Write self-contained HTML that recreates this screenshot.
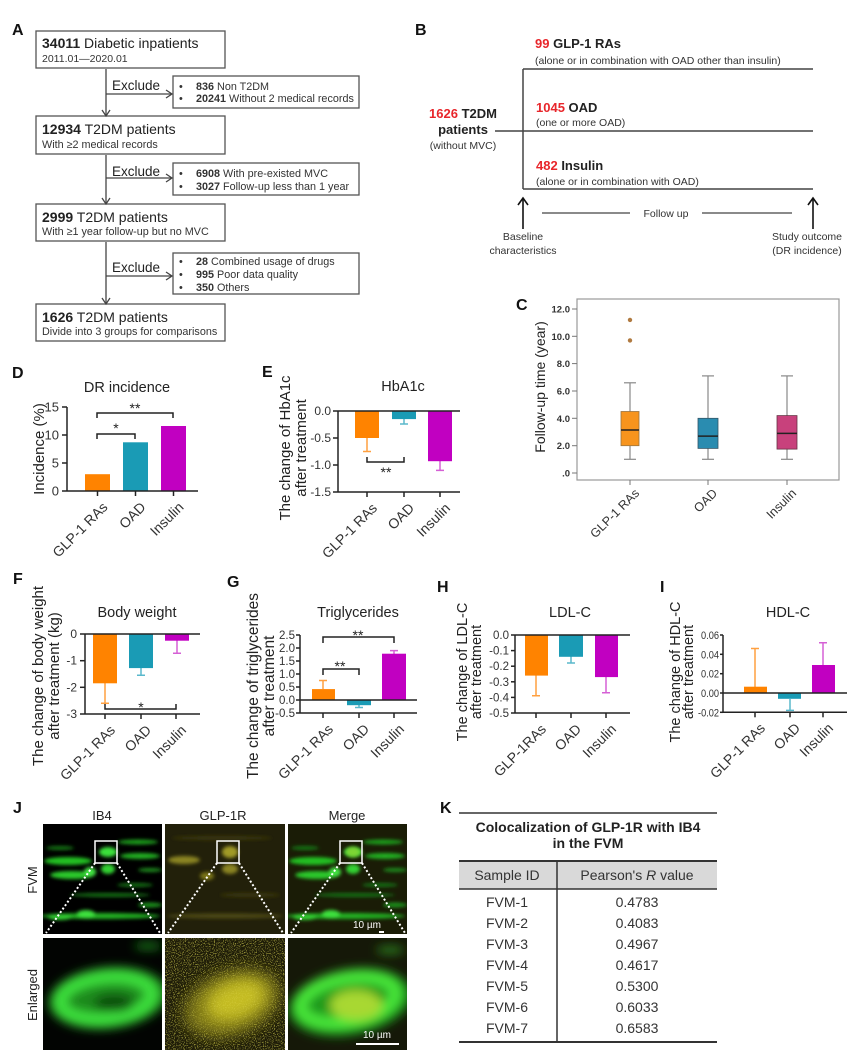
<!DOCTYPE html>
<html><head><meta charset="utf-8">
<style>
html,body{margin:0;padding:0;background:#fff;}
svg{display:block;font-family:"Liberation Sans",Arial,sans-serif;}
</style></head><body>
<svg width="858" height="1059" viewBox="0 0 858 1059" xmlns="http://www.w3.org/2000/svg">
<defs>
  <filter id="bl2" x="-20%" y="-50%" width="140%" height="200%"><feGaussianBlur stdDeviation="1.8"/></filter>
  <filter id="bl5" x="-30%" y="-30%" width="160%" height="160%"><feGaussianBlur stdDeviation="5"/></filter>
  <filter id="bl7" x="-30%" y="-30%" width="160%" height="160%"><feGaussianBlur stdDeviation="7"/></filter>
  <filter id="nz" x="0" y="0" width="100%" height="100%"><feTurbulence type="fractalNoise" baseFrequency="0.9" numOctaves="1" seed="5"/><feColorMatrix type="matrix" values="0 0 0 0 0.8  0 0 0 0 0.76  0 0 0 0 0.1  0 0 0 5 -2.6"/></filter>
  <clipPath id="c1"><rect x="43" y="824" width="119" height="110"/></clipPath>
  <clipPath id="c2"><rect x="165" y="824" width="120" height="110"/></clipPath>
  <clipPath id="c3"><rect x="288" y="824" width="119" height="110"/></clipPath>
  <clipPath id="c4"><rect x="43" y="938" width="119" height="112"/></clipPath>
  <clipPath id="c5"><rect x="165" y="938" width="120" height="112"/></clipPath>
  <clipPath id="c6"><rect x="288" y="938" width="119" height="112"/></clipPath>
  <g id="g1" filter="url(#bl2)">
    <ellipse cx="68" cy="861" rx="24" ry="4" fill="#22c022"/>
    <ellipse cx="108" cy="852" rx="9" ry="5" fill="#3be03b"/>
    <ellipse cx="108" cy="869" rx="7" ry="5" fill="#33d033"/>
    <ellipse cx="72" cy="875" rx="22" ry="4" fill="#2cc82c"/>
    <ellipse cx="90" cy="872" rx="6" ry="5" fill="#3fe03f"/>
    <ellipse cx="140" cy="856" rx="20" ry="3" fill="#22b022"/>
    <ellipse cx="138" cy="842" rx="20" ry="2.5" fill="#1e9e1e"/>
    <ellipse cx="150" cy="870" rx="12" ry="2" fill="#1a8a1a"/>
    <ellipse cx="100" cy="916" rx="60" ry="3" fill="#20b020"/>
    <ellipse cx="86" cy="914" rx="9" ry="4" fill="#3ee03e"/>
    <ellipse cx="60" cy="917" rx="12" ry="3" fill="#30d030"/>
    <ellipse cx="110" cy="895" rx="40" ry="2" fill="#127012"/>
    <ellipse cx="150" cy="905" rx="12" ry="2.5" fill="#1a901a"/>
    <ellipse cx="60" cy="848" rx="14" ry="2" fill="#157515"/>
    <ellipse cx="135" cy="885" rx="18" ry="2" fill="#127012"/>
  </g>
</defs>

<!-- Panel letters -->
<g font-size="16" font-weight="bold" fill="#111">
  <text x="12" y="35">A</text>
  <text x="415" y="35">B</text>
  <text x="516" y="310">C</text>
  <text x="12" y="378">D</text>
  <text x="262" y="377">E</text>
  <text x="13" y="584">F</text>
  <text x="227" y="587">G</text>
  <text x="437" y="592">H</text>
  <text x="660" y="592">I</text>
  <text x="13" y="813">J</text>
  <text x="440" y="813">K</text>
</g>

<!-- ================= Panel A ================= -->
<g fill="none" stroke="#555" stroke-width="1.3">
  <rect x="36" y="31" width="189" height="37"/>
  <rect x="36" y="116" width="189" height="38"/>
  <rect x="36" y="204" width="189" height="37"/>
  <rect x="36" y="304" width="189" height="37"/>
  <rect x="173" y="76" width="186" height="32"/>
  <rect x="173" y="163" width="186" height="32"/>
  <rect x="173" y="253" width="186" height="41"/>
</g>
<g fill="none" stroke="#444" stroke-width="1.3">
  <line x1="106" y1="69" x2="106" y2="115"/><path d="M102,110 L106,116 L110,110"/>
  <line x1="106" y1="94" x2="171" y2="94"/><path d="M166,90 L172,94 L166,98"/>
  <line x1="106" y1="155" x2="106" y2="203"/><path d="M102,198 L106,204 L110,198"/>
  <line x1="106" y1="178" x2="171" y2="178"/><path d="M166,174 L172,178 L166,182"/>
  <line x1="106" y1="242" x2="106" y2="303"/><path d="M102,298 L106,304 L110,298"/>
  <line x1="106" y1="276" x2="171" y2="276"/><path d="M166,272 L172,276 L166,280"/>
</g>
<g fill="#222">
  <text x="42" y="48" font-size="14"><tspan font-weight="bold">34011</tspan> Diabetic inpatients</text>
  <text x="42" y="62" font-size="10.5" fill="#333">2011.01—2020.01</text>
  <text x="42" y="134" font-size="14"><tspan font-weight="bold">12934</tspan> T2DM patients</text>
  <text x="42" y="148" font-size="10.8" fill="#333">With ≥2 medical records</text>
  <text x="42" y="222" font-size="14"><tspan font-weight="bold">2999</tspan> T2DM patients</text>
  <text x="42" y="235" font-size="10.8" fill="#333">With ≥1 year follow-up but no MVC</text>
  <text x="42" y="322" font-size="14"><tspan font-weight="bold">1626</tspan> T2DM patients</text>
  <text x="42" y="335" font-size="10.8" fill="#333">Divide into 3 groups for comparisons</text>
  <text x="112" y="90" font-size="13.5">Exclude</text>
  <text x="112" y="176" font-size="13.5">Exclude</text>
  <text x="112" y="272" font-size="13.5">Exclude</text>
</g>
<g fill="#333" font-size="10.8">
  <text x="179" y="90">•</text><text x="196" y="90"><tspan font-weight="bold">836</tspan> Non T2DM</text>
  <text x="179" y="102">•</text><text x="196" y="102"><tspan font-weight="bold">20241</tspan> Without 2 medical records</text>
  <text x="179" y="177">•</text><text x="196" y="177"><tspan font-weight="bold">6908</tspan> With pre-existed MVC</text>
  <text x="179" y="190">•</text><text x="196" y="190"><tspan font-weight="bold">3027</tspan> Follow-up less than 1 year</text>
  <text x="179" y="265">•</text><text x="196" y="265"><tspan font-weight="bold">28</tspan> Combined usage of drugs</text>
  <text x="179" y="278">•</text><text x="196" y="278"><tspan font-weight="bold">995</tspan> Poor data quality</text>
  <text x="179" y="291">•</text><text x="196" y="291"><tspan font-weight="bold">350</tspan> Others</text>
</g>

<!-- ================= Panel B ================= -->
<g stroke="#444" stroke-width="1.5" fill="none">
  <line x1="523" y1="69" x2="813" y2="69"/>
  <line x1="495" y1="131" x2="813" y2="131"/>
  <line x1="523" y1="189" x2="813" y2="189"/>
  <line x1="523" y1="69" x2="523" y2="189"/>
  <line x1="542" y1="213" x2="630" y2="213" stroke-width="1.2"/>
  <line x1="702" y1="213" x2="792" y2="213" stroke-width="1.2"/>
</g>
<g stroke="#111" stroke-width="1.6" fill="none">
  <line x1="523" y1="229" x2="523" y2="199"/><path d="M518,205 L523,198 L528,205"/>
  <line x1="813" y1="229" x2="813" y2="199"/><path d="M808,205 L813,198 L818,205"/>
</g>
<g fill="#222">
  <text x="535" y="48" font-size="13" font-weight="bold"><tspan fill="#e8262b">99</tspan> GLP-1 RAs</text>
  <text x="535" y="64" font-size="10.5" fill="#333">(alone or in combination with OAD other than insulin)</text>
  <text x="536" y="112" font-size="13" font-weight="bold"><tspan fill="#e8262b">1045</tspan> OAD</text>
  <text x="536" y="126" font-size="10.5" fill="#333">(one or more OAD)</text>
  <text x="536" y="170" font-size="13" font-weight="bold"><tspan fill="#e8262b">482</tspan> Insulin</text>
  <text x="536" y="185" font-size="10.5" fill="#333">(alone or in combination with OAD)</text>
  <text x="463" y="118" font-size="13" font-weight="bold" text-anchor="middle"><tspan fill="#e8262b">1626</tspan> T2DM</text>
  <text x="463" y="134" font-size="13" font-weight="bold" text-anchor="middle">patients</text>
  <text x="463" y="149" font-size="10.5" text-anchor="middle" fill="#333">(without MVC)</text>
  <text x="666" y="217" font-size="10.5" text-anchor="middle" fill="#333">Follow up</text>
  <text x="523" y="240" font-size="10.5" text-anchor="middle" fill="#333">Baseline</text>
  <text x="523" y="254" font-size="10.5" text-anchor="middle" fill="#333">characteristics</text>
  <text x="807" y="240" font-size="10.5" text-anchor="middle" fill="#333">Study outcome</text>
  <text x="807" y="254" font-size="10.5" text-anchor="middle" fill="#333">(DR incidence)</text>
</g>

<!-- ================= Panel C ================= -->
<rect x="577" y="299" width="262" height="181" fill="none" stroke="#999" stroke-width="1.2"/>
<g stroke="#777" stroke-width="1">
  <line x1="572" y1="309" x2="577" y2="309"/>
  <line x1="572" y1="336.3" x2="577" y2="336.3"/>
  <line x1="572" y1="363.6" x2="577" y2="363.6"/>
  <line x1="572" y1="391" x2="577" y2="391"/>
  <line x1="572" y1="418.3" x2="577" y2="418.3"/>
  <line x1="572" y1="445.7" x2="577" y2="445.7"/>
  <line x1="572" y1="473" x2="577" y2="473"/>
  <line x1="630" y1="480" x2="630" y2="485"/>
  <line x1="708" y1="480" x2="708" y2="485"/>
  <line x1="787" y1="480" x2="787" y2="485"/>
</g>
<g font-size="9.5" font-weight="bold" fill="#333" text-anchor="end">
  <text x="570" y="312.5">12.0</text>
  <text x="570" y="339.8">10.0</text>
  <text x="570" y="367.1">8.0</text>
  <text x="570" y="394.5">6.0</text>
  <text x="570" y="421.8">4.0</text>
  <text x="570" y="449.2">2.0</text>
  <text x="570" y="476.5">.0</text>
</g>
<text transform="translate(545,387) rotate(-90)" font-size="14" text-anchor="middle" fill="#222">Follow-up time (year)</text>
<g stroke="#888" stroke-width="1.2">
  <line x1="630" y1="382.8" x2="630" y2="459.3"/>
  <line x1="624" y1="382.8" x2="636" y2="382.8"/>
  <line x1="624" y1="459.3" x2="636" y2="459.3"/>
  <line x1="708" y1="375.9" x2="708" y2="459.3"/>
  <line x1="702" y1="375.9" x2="714" y2="375.9"/>
  <line x1="702" y1="459.3" x2="714" y2="459.3"/>
  <line x1="787" y1="375.9" x2="787" y2="459.3"/>
  <line x1="781" y1="375.9" x2="793" y2="375.9"/>
  <line x1="781" y1="459.3" x2="793" y2="459.3"/>
</g>
<rect x="621" y="411.5" width="18" height="34.2" fill="#f7941d" stroke="#9a7440" stroke-width="0.8"/>
<line x1="621" y1="430" x2="639" y2="430" stroke="#222" stroke-width="1.5"/>
<rect x="698" y="418.3" width="20" height="30.1" fill="#2a8cb0" stroke="#335566" stroke-width="0.8"/>
<line x1="698" y1="436.1" x2="718" y2="436.1" stroke="#222" stroke-width="1.5"/>
<rect x="777" y="415.6" width="20" height="33.5" fill="#c8417c" stroke="#663344" stroke-width="0.8"/>
<line x1="777" y1="433.4" x2="797" y2="433.4" stroke="#222" stroke-width="1.5"/>
<circle cx="630" cy="319.9" r="2.2" fill="#b07a40"/>
<circle cx="630" cy="340.4" r="2.2" fill="#b07a40"/>
<g font-size="12.5" fill="#333" text-anchor="end">
  <text transform="translate(640,494) rotate(-45)">GLP-1 RAs</text>
  <text transform="translate(718,494) rotate(-45)">OAD</text>
  <text transform="translate(797,494) rotate(-45)">Insulin</text>
</g>

<!-- ================= Panel D ================= -->
<text x="127" y="392" font-size="14.5" text-anchor="middle" fill="#222">DR incidence</text>
<rect x="85" y="474.2" width="25" height="16.8" fill="#ff8300"/>
<rect x="123" y="442.3" width="25" height="48.7" fill="#1a9bb5"/>
<rect x="161" y="426" width="25" height="65" fill="#c100c1"/>
<g stroke="#222" stroke-width="1.5" fill="none">
  <line x1="67" y1="407" x2="67" y2="491"/>
  <line x1="67" y1="491" x2="198" y2="491"/>
  <line x1="62" y1="407" x2="67" y2="407"/>
  <line x1="62" y1="435" x2="67" y2="435"/>
  <line x1="62" y1="463" x2="67" y2="463"/>
  <line x1="62" y1="491" x2="67" y2="491"/>
  <line x1="97.5" y1="491" x2="97.5" y2="496"/>
  <line x1="135.5" y1="491" x2="135.5" y2="496"/>
  <line x1="173.5" y1="491" x2="173.5" y2="496"/>
  <path d="M97,439 L97,434 L135,434 L135,439"/>
  <path d="M97,418 L97,413 L173,413 L173,418"/>
</g>
<g font-size="13" fill="#333" text-anchor="end">
  <text x="59" y="411.5">15</text>
  <text x="59" y="439.5">10</text>
  <text x="59" y="467.5">5</text>
  <text x="59" y="495.5">0</text>
</g>
<g font-size="14" fill="#222" text-anchor="middle">
  <text x="116" y="433">*</text>
  <text x="135" y="413">**</text>
</g>
<text transform="translate(44,449) rotate(-90)" font-size="15" text-anchor="middle" fill="#222">Incidence (%)</text>
<g font-size="14" fill="#333" text-anchor="end">
  <text transform="translate(108.5,508) rotate(-45)">GLP-1 RAs</text>
  <text transform="translate(146.5,508) rotate(-45)">OAD</text>
  <text transform="translate(184.5,508) rotate(-45)">Insulin</text>
</g>

<!-- ================= Panel E ================= -->
<text x="403" y="391" font-size="14.5" text-anchor="middle" fill="#222">HbA1c</text>
<g stroke-width="1.5" fill="none">
  <path d="M367,438 L367,451.5 M363,451.5 L371,451.5" stroke="#ffa040"/>
  <path d="M404,419 L404,424 M400,424 L408,424" stroke="#5ab8cc"/>
  <path d="M440,461 L440,470.4 M436,470.4 L444,470.4" stroke="#d560d5"/>
</g>
<rect x="355" y="411" width="24" height="27" fill="#ff8300"/>
<rect x="392" y="411" width="24" height="8.1" fill="#1a9bb5"/>
<rect x="428" y="411" width="24" height="50.2" fill="#c100c1"/>
<g stroke="#222" stroke-width="1.5" fill="none">
  <line x1="338" y1="411" x2="338" y2="492"/>
  <line x1="338" y1="411" x2="460" y2="411"/>
  <line x1="338" y1="492" x2="460" y2="492"/>
  <line x1="333" y1="411" x2="338" y2="411"/>
  <line x1="333" y1="438" x2="338" y2="438"/>
  <line x1="333" y1="465" x2="338" y2="465"/>
  <line x1="333" y1="492" x2="338" y2="492"/>
  <line x1="367" y1="492" x2="367" y2="497"/>
  <line x1="404" y1="492" x2="404" y2="497"/>
  <line x1="440" y1="492" x2="440" y2="497"/>
  <path d="M367,457 L367,462 L404,462 L404,457"/>
</g>
<g font-size="12" fill="#333" text-anchor="end">
  <text x="331" y="415">0.0</text>
  <text x="331" y="442">-0.5</text>
  <text x="331" y="469">-1.0</text>
  <text x="331" y="496">-1.5</text>
</g>
<text x="386" y="477" font-size="14" text-anchor="middle" fill="#222">**</text>
<g font-size="15" fill="#222" text-anchor="middle">
  <text transform="translate(290,448) rotate(-90)">The change of HbA1c</text>
  <text transform="translate(306,448) rotate(-90)">after treatment</text>
</g>
<g font-size="14" fill="#333" text-anchor="end">
  <text transform="translate(378,509) rotate(-45)">GLP-1 RAs</text>
  <text transform="translate(415,509) rotate(-45)">OAD</text>
  <text transform="translate(451,509) rotate(-45)">Insulin</text>
</g>

<!-- ================= Panel F ================= -->
<text x="137" y="617" font-size="14.5" text-anchor="middle" fill="#222">Body weight</text>
<g stroke-width="1.5" fill="none">
  <path d="M105,683 L105,703.3 M101,703.3 L109,703.3" stroke="#ffa040"/>
  <path d="M141,668 L141,675.3 M137,675.3 L145,675.3" stroke="#5ab8cc"/>
  <path d="M177,640 L177,653.2 M173,653.2 L181,653.2" stroke="#d560d5"/>
</g>
<rect x="93" y="634" width="24" height="49.3" fill="#ff8300"/>
<rect x="129" y="634" width="24" height="34.1" fill="#1a9bb5"/>
<rect x="165" y="634" width="24" height="6.7" fill="#c100c1"/>
<g stroke="#222" stroke-width="1.5" fill="none">
  <line x1="85" y1="634" x2="85" y2="714"/>
  <line x1="85" y1="634" x2="200" y2="634"/>
  <line x1="85" y1="714" x2="200" y2="714"/>
  <line x1="80" y1="634" x2="85" y2="634"/>
  <line x1="80" y1="660.7" x2="85" y2="660.7"/>
  <line x1="80" y1="687.3" x2="85" y2="687.3"/>
  <line x1="80" y1="714" x2="85" y2="714"/>
  <line x1="105" y1="714" x2="105" y2="719"/>
  <line x1="141" y1="714" x2="141" y2="719"/>
  <line x1="176" y1="714" x2="176" y2="719"/>
  <path d="M105,704 L105,709 L176,709 L176,704"/>
</g>
<g font-size="12" fill="#333" text-anchor="end">
  <text x="77" y="638">0</text>
  <text x="77" y="664.7">-1</text>
  <text x="77" y="691.3">-2</text>
  <text x="77" y="718">-3</text>
</g>
<text x="141" y="712" font-size="14" text-anchor="middle" fill="#222">*</text>
<g font-size="15" fill="#222" text-anchor="middle">
  <text transform="translate(43,676) rotate(-90)">The change of body weight</text>
  <text transform="translate(59,676) rotate(-90)">after treatment (kg)</text>
</g>
<g font-size="14" fill="#333" text-anchor="end">
  <text transform="translate(116,731) rotate(-45)">GLP-1 RAs</text>
  <text transform="translate(152,731) rotate(-45)">OAD</text>
  <text transform="translate(187,731) rotate(-45)">Insulin</text>
</g>

<!-- ================= Panel G ================= -->
<text x="358" y="617" font-size="14.5" text-anchor="middle" fill="#222">Triglycerides</text>
<g stroke-width="1.5" fill="none">
  <path d="M323,689 L323,680.5 M319,680.5 L327,680.5" stroke="#ffa040"/>
  <path d="M359,705 L359,707.5 M355,707.5 L363,707.5" stroke="#5ab8cc"/>
  <path d="M394,654 L394,650.6 M390,650.6 L398,650.6" stroke="#d560d5"/>
</g>
<rect x="312" y="689.1" width="23" height="10.9" fill="#ff8300"/>
<rect x="347" y="700" width="24" height="5.2" fill="#1a9bb5"/>
<rect x="382" y="653.7" width="24" height="46.3" fill="#c100c1"/>
<g stroke="#222" stroke-width="1.5" fill="none">
  <line x1="300" y1="635" x2="300" y2="713"/>
  <line x1="300" y1="700" x2="417" y2="700"/>
  <line x1="300" y1="713" x2="417" y2="713"/>
  <line x1="296" y1="635" x2="300" y2="635"/>
  <line x1="296" y1="648" x2="300" y2="648"/>
  <line x1="296" y1="661" x2="300" y2="661"/>
  <line x1="296" y1="674" x2="300" y2="674"/>
  <line x1="296" y1="687" x2="300" y2="687"/>
  <line x1="296" y1="700" x2="300" y2="700"/>
  <line x1="296" y1="713" x2="300" y2="713"/>
  <line x1="323" y1="713" x2="323" y2="718"/>
  <line x1="359" y1="713" x2="359" y2="718"/>
  <line x1="394" y1="713" x2="394" y2="718"/>
  <path d="M323,675 L323,669 L359,669 L359,675"/>
  <path d="M323,643 L323,637 L394,637 L394,643"/>
</g>
<g font-size="11.5" fill="#333" text-anchor="end">
  <text x="295" y="639">2.5</text>
  <text x="295" y="652">2.0</text>
  <text x="295" y="665">1.5</text>
  <text x="295" y="678">1.0</text>
  <text x="295" y="691">0.5</text>
  <text x="295" y="704">0.0</text>
  <text x="295" y="717">-0.5</text>
</g>
<g font-size="14" fill="#222" text-anchor="middle">
  <text x="340" y="671">**</text>
  <text x="358" y="640">**</text>
</g>
<g font-size="15.5" fill="#222" text-anchor="middle">
  <text transform="translate(258,686) rotate(-90)">The change of triglycerides</text>
  <text transform="translate(274,686) rotate(-90)">after treatment</text>
</g>
<g font-size="14" fill="#333" text-anchor="end">
  <text transform="translate(334,730) rotate(-45)">GLP-1 RAs</text>
  <text transform="translate(370,730) rotate(-45)">OAD</text>
  <text transform="translate(405,730) rotate(-45)">Insulin</text>
</g>

<!-- ================= Panel H ================= -->
<text x="570" y="617" font-size="14.5" text-anchor="middle" fill="#222">LDL-C</text>
<g stroke-width="1.5" fill="none">
  <path d="M536,675 L536,695.8 M532,695.8 L540,695.8" stroke="#ffa040"/>
  <path d="M571,656 L571,663 M567,663 L575,663" stroke="#5ab8cc"/>
  <path d="M606,676 L606,692.7 M602,692.7 L610,692.7" stroke="#d560d5"/>
</g>
<rect x="525" y="635" width="23" height="40.6" fill="#ff8300"/>
<rect x="559" y="635" width="24" height="21.8" fill="#1a9bb5"/>
<rect x="595" y="635" width="23" height="42.1" fill="#c100c1"/>
<g stroke="#222" stroke-width="1.5" fill="none">
  <line x1="515" y1="635" x2="515" y2="713"/>
  <line x1="515" y1="635" x2="630" y2="635"/>
  <line x1="515" y1="713" x2="630" y2="713"/>
  <line x1="511" y1="635" x2="515" y2="635"/>
  <line x1="511" y1="650.6" x2="515" y2="650.6"/>
  <line x1="511" y1="666.2" x2="515" y2="666.2"/>
  <line x1="511" y1="681.8" x2="515" y2="681.8"/>
  <line x1="511" y1="697.4" x2="515" y2="697.4"/>
  <line x1="511" y1="713" x2="515" y2="713"/>
  <line x1="536" y1="713" x2="536" y2="718"/>
  <line x1="571" y1="713" x2="571" y2="718"/>
  <line x1="606" y1="713" x2="606" y2="718"/>
</g>
<g font-size="11.5" fill="#333" text-anchor="end">
  <text x="509" y="639">0.0</text>
  <text x="509" y="654.6">-0.1</text>
  <text x="509" y="670.2">-0.2</text>
  <text x="509" y="685.8">-0.3</text>
  <text x="509" y="701.4">-0.4</text>
  <text x="509" y="717">-0.5</text>
</g>
<g font-size="14.5" fill="#222" text-anchor="middle">
  <text transform="translate(467,672) rotate(-90)">The change of LDL-C</text>
  <text transform="translate(481,672) rotate(-90)">after treatment</text>
</g>
<g font-size="14" fill="#333" text-anchor="end">
  <text transform="translate(547,730) rotate(-45)">GLP-1RAs</text>
  <text transform="translate(582,730) rotate(-45)">OAD</text>
  <text transform="translate(617,730) rotate(-45)">Insulin</text>
</g>

<!-- ================= Panel I ================= -->
<text x="788" y="617" font-size="14.5" text-anchor="middle" fill="#222">HDL-C</text>
<g stroke-width="1.5" fill="none">
  <path d="M755,687 L755,648.5 M751,648.5 L759,648.5" stroke="#ffa040"/>
  <path d="M790,699 L790,710.4 M786,710.4 L794,710.4" stroke="#5ab8cc"/>
  <path d="M823,665 L823,642.7 M819,642.7 L827,642.7" stroke="#d560d5"/>
</g>
<rect x="744" y="686.7" width="23" height="6.3" fill="#ff8300"/>
<rect x="778" y="693" width="23" height="5.8" fill="#1a9bb5"/>
<rect x="812" y="665" width="23" height="28" fill="#c100c1"/>
<g stroke="#222" stroke-width="1.5" fill="none">
  <line x1="723" y1="635" x2="723" y2="712.3"/>
  <line x1="723" y1="693" x2="847" y2="693"/>
  <line x1="723" y1="712.3" x2="847" y2="712.3"/>
  <line x1="720" y1="635" x2="723" y2="635"/>
  <line x1="720" y1="654.3" x2="723" y2="654.3"/>
  <line x1="720" y1="673.7" x2="723" y2="673.7"/>
  <line x1="720" y1="693" x2="723" y2="693"/>
  <line x1="720" y1="712.3" x2="723" y2="712.3"/>
  <line x1="755" y1="712.3" x2="755" y2="717.3"/>
  <line x1="790" y1="712.3" x2="790" y2="717.3"/>
  <line x1="823" y1="712.3" x2="823" y2="717.3"/>
</g>
<g font-size="11" fill="#333">
  <text x="701" y="639" textLength="18" lengthAdjust="spacingAndGlyphs">0.06</text>
  <text x="701" y="658.3" textLength="18" lengthAdjust="spacingAndGlyphs">0.04</text>
  <text x="701" y="677.7" textLength="18" lengthAdjust="spacingAndGlyphs">0.02</text>
  <text x="701" y="697" textLength="18" lengthAdjust="spacingAndGlyphs">0.00</text>
  <text x="698" y="716.3" textLength="21" lengthAdjust="spacingAndGlyphs">-0.02</text>
</g>
<g font-size="14.5" fill="#222" text-anchor="middle">
  <text transform="translate(680,672) rotate(-90)">The change of HDL-C</text>
  <text transform="translate(693,672) rotate(-90)">after treatment</text>
</g>
<g font-size="14" fill="#333" text-anchor="end">
  <text transform="translate(766,729) rotate(-45)">GLP-1 RAs</text>
  <text transform="translate(801,729) rotate(-45)">OAD</text>
  <text transform="translate(834,729) rotate(-45)">Insulin</text>
</g>

<!-- ================= Panel J ================= -->
<g font-size="13" fill="#222" text-anchor="middle">
  <text x="102" y="820">IB4</text>
  <text x="223" y="820">GLP-1R</text>
  <text x="347" y="820">Merge</text>
  <text transform="translate(37,880) rotate(-90)">FVM</text>
  <text transform="translate(37,995) rotate(-90)">Enlarged</text>
</g>
<g clip-path="url(#c1)">
  <rect x="43" y="824" width="119" height="110" fill="#000"/>
  <use href="#g1"/>
</g>
<g clip-path="url(#c2)">
  <rect x="165" y="824" width="120" height="110" fill="#22200a"/>
  <g filter="url(#bl2)">
    <ellipse cx="184" cy="860" rx="16" ry="4" fill="#8a8420"/>
    <ellipse cx="230" cy="852" rx="8" ry="6" fill="#a09a28"/>
    <ellipse cx="230" cy="869" rx="8" ry="5" fill="#8a8420"/>
    <ellipse cx="207" cy="876" rx="7" ry="4" fill="#7a7418"/>
    <ellipse cx="225" cy="916" rx="58" ry="2.5" fill="#4e4a12"/>
    <ellipse cx="222" cy="838" rx="50" ry="2" fill="#3a3810"/>
    <ellipse cx="250" cy="895" rx="30" ry="2" fill="#3a3810"/>
  </g>
</g>
<g clip-path="url(#c3)">
  <rect x="288" y="824" width="119" height="110" fill="#1a1c06"/>
  <use href="#g1" transform="translate(245,0)"/>
  <ellipse cx="353" cy="852" rx="7" ry="5" fill="#9ad030" filter="url(#bl2)" opacity="0.7"/>
</g>
<g fill="none" stroke="#fff">
  <rect x="95" y="841" width="22" height="22" stroke-width="1.5"/>
  <rect x="217" y="841" width="22" height="22" stroke-width="1.5"/>
  <rect x="340" y="841" width="22" height="22" stroke-width="1.5"/>
  <g stroke-width="2" stroke-dasharray="2 2.2">
    <line x1="95" y1="863" x2="46" y2="933"/>
    <line x1="117" y1="863" x2="160" y2="933"/>
    <line x1="217" y1="863" x2="168" y2="933"/>
    <line x1="239" y1="863" x2="283" y2="933"/>
    <line x1="340" y1="863" x2="291" y2="933"/>
    <line x1="362" y1="863" x2="405" y2="933"/>
  </g>
</g>
<text x="367" y="928" font-size="10" fill="#fff" text-anchor="middle">10 µm</text>
<line x1="379" y1="932" x2="384" y2="932" stroke="#fff" stroke-width="2"/>
<g clip-path="url(#c4)">
  <rect x="43" y="938" width="119" height="112" fill="#020402"/>
  <g filter="url(#bl5)">
    <ellipse cx="108" cy="998" rx="60" ry="31" fill="#1a8a1a" transform="rotate(-6 108 998)"/>
    <ellipse cx="106" cy="998" rx="46" ry="21" fill="none" stroke="#3ee03e" stroke-width="13" transform="rotate(-6 106 998)"/>
    <ellipse cx="114" cy="1003" rx="20" ry="9" fill="#0c500c"/>
    <ellipse cx="148" cy="946" rx="14" ry="4" fill="#127012"/>
  </g>
</g>
<g clip-path="url(#c5)">
  <rect x="165" y="938" width="120" height="112" fill="#1e1c08"/>
  <rect x="165" y="938" width="120" height="112" filter="url(#nz)" opacity="0.45"/>
  <g filter="url(#bl7)">
    <ellipse cx="232" cy="1003" rx="50" ry="32" fill="#7a7414" transform="rotate(-20 232 1003)"/>
    <ellipse cx="236" cy="1000" rx="30" ry="18" fill="#c4bc22" transform="rotate(-20 236 1000)"/>
  </g>
  <rect x="165" y="938" width="120" height="112" filter="url(#nz)" opacity="0.35"/>
</g>
<g clip-path="url(#c6)">
  <rect x="288" y="938" width="119" height="112" fill="#151808"/>
  <g filter="url(#bl5)">
    <ellipse cx="350" cy="1002" rx="62" ry="33" fill="#1f9a1f" transform="rotate(-10 350 1002)"/>
    <ellipse cx="348" cy="1000" rx="48" ry="22" fill="none" stroke="#4ae83a" stroke-width="12" transform="rotate(-10 348 1000)"/>
    <ellipse cx="356" cy="1005" rx="26" ry="15" fill="#a8d830"/>
    <ellipse cx="390" cy="950" rx="14" ry="4" fill="#2a7a1a"/>
  </g>
</g>
<text x="377" y="1038" font-size="10" fill="#fff" text-anchor="middle">10 µm</text>
<line x1="356" y1="1044" x2="399" y2="1044" stroke="#fff" stroke-width="2"/>

<!-- ================= Panel K ================= -->
<line x1="459" y1="813" x2="717" y2="813" stroke="#333" stroke-width="1.5"/>
<g font-size="14" font-weight="bold" fill="#222" text-anchor="middle">
  <text x="588" y="832">Colocalization of GLP-1R with IB4</text>
  <text x="588" y="848">in the FVM</text>
</g>
<rect x="459" y="861" width="258" height="28" fill="#d9d9d9"/>
<line x1="459" y1="861" x2="717" y2="861" stroke="#333" stroke-width="2"/>
<line x1="459" y1="889" x2="717" y2="889" stroke="#333" stroke-width="1.5"/>
<line x1="557" y1="861" x2="557" y2="1042" stroke="#333" stroke-width="1.5"/>
<line x1="459" y1="1042" x2="717" y2="1042" stroke="#333" stroke-width="2"/>
<g font-size="14" fill="#333" text-anchor="middle">
  <text x="507" y="880">Sample ID</text>
  <text x="637" y="880">Pearson's <tspan font-style="italic">R</tspan> value</text>
  <text x="507" y="907">FVM-1</text><text x="637" y="907">0.4783</text>
  <text x="507" y="928">FVM-2</text><text x="637" y="928">0.4083</text>
  <text x="507" y="949">FVM-3</text><text x="637" y="949">0.4967</text>
  <text x="507" y="970">FVM-4</text><text x="637" y="970">0.4617</text>
  <text x="507" y="991">FVM-5</text><text x="637" y="991">0.5300</text>
  <text x="507" y="1012">FVM-6</text><text x="637" y="1012">0.6033</text>
  <text x="507" y="1033">FVM-7</text><text x="637" y="1033">0.6583</text>
</g>
</svg>
</body></html>
